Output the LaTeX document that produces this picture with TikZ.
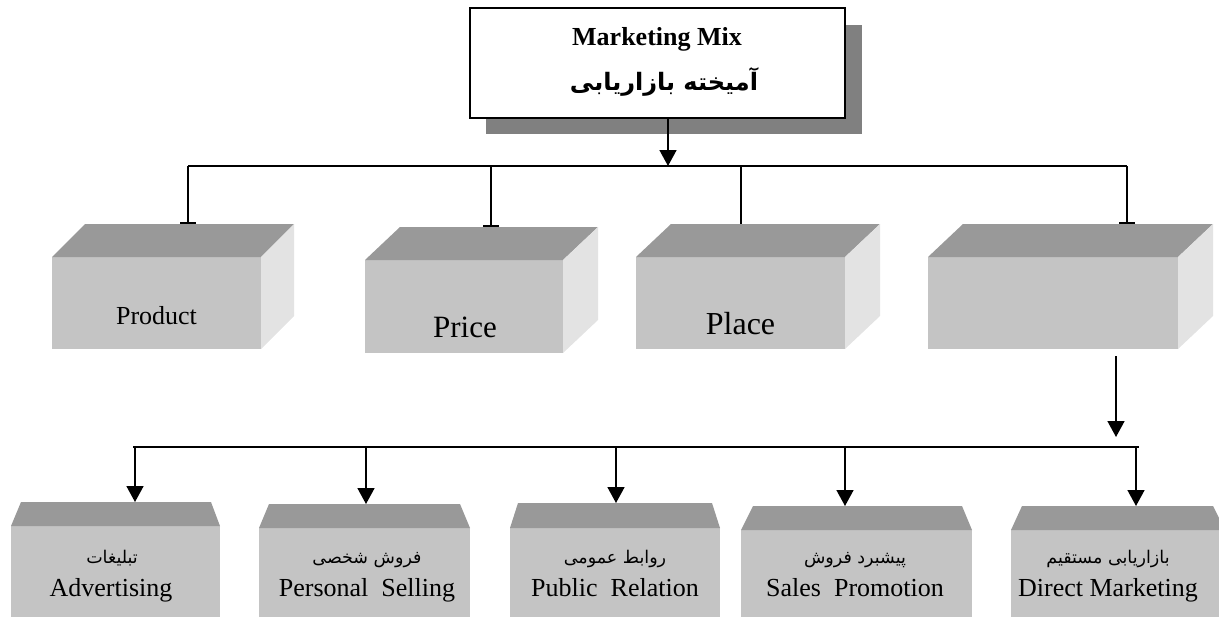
\documentclass[tikz,border=0pt]{standalone}
\usepackage{fontspec}
\setmainfont{Liberation Serif}
\newfontfamily\fa[Script=Arabic]{DejaVu Sans}
\TeXXeTstate=1
\usetikzlibrary{arrows.meta}
\definecolor{topc}{HTML}{999999}
\definecolor{frontc}{HTML}{C4C4C4}
\definecolor{sidec}{HTML}{E3E3E3}
\definecolor{shadowc}{HTML}{808080}
\tikzset{
  face/.style={fill=frontc, inner sep=0pt, outer sep=0pt},
  bigtxt/.style={anchor=base, inner sep=0pt, font=\fontsize{#1}{#1}\selectfont},
  fatxt/.style={anchor=base, inner sep=0pt, font=\fa\fontsize{17.5pt}{19pt}\selectfont},
  entxt/.style={anchor=base, inner sep=0pt, font=\fontsize{26pt}{28pt}\selectfont},
  bus/.style={line width=2.2pt},
  conn/.style={line width=1.8pt},
  barend/.style={line width=1.8pt, -{Bar[width=16pt,line width=2.5pt]}},
  arr/.style={line width=1.6pt, -{Triangle[width=17pt,length=16pt]}},
}
% cuboid: name, center x, center y, width, height, depth
\newcommand\cuboid[6]{%
  \node[face, minimum width=#4pt, minimum height=#5pt] (#1) at (#2,#3) {};
  \fill[topc] (#1.north west) -- ++(#6,-33) coordinate (#1-bl) -- ++(#4,0) coordinate (#1-br) -- (#1.north east) -- cycle;
  \fill[sidec] (#1.north east) -- (#1-br) -- ++(0,#5) -- (#1.south east) -- cycle;
}
% flat box: name, center x, center y, width, height, top y, left inset, right inset
\newcommand\flatbox[8]{%
  \node[face, minimum width=#4pt, minimum height=#5pt] (#1) at (#2,#3) {};
  \fill[topc] (#1.north west) -- ([xshift=#7pt]#1.north west |- 0,#6) coordinate (#1-tl)
     -- ([xshift=-#8pt]#1.north east |- 0,#6) coordinate (#1-tr) -- (#1.north east) -- cycle;
}
\begin{document}
\begin{tikzpicture}[x=1pt,y=-1pt]
\useasboundingbox (0,0) rectangle (1219,619);
\clip (0,0) rectangle (1219,619);

% title box with shadow
\fill[shadowc] (486,25) rectangle (862,134);
\node[draw=black, line width=2.5pt, fill=white, minimum width=375pt, minimum height=110pt, inner sep=0pt] (mix) at (657.5,63) {};
\node[bigtxt=26pt, font=\bfseries\fontsize{26pt}{28pt}\selectfont] (mixen) at (657,45) {Marketing Mix};
\node[anchor=base, inner sep=0pt, font=\fa\bfseries\fontsize{24pt}{26pt}\selectfont] (mixfa) at (664,90) {\beginR آمیخته بازاریابی\endR};

% upper cuboids
\cuboid{product}{156.5}{303}{209}{92}{33}
\cuboid{price}{464}{306.5}{198}{93}{35}
\cuboid{place}{740.5}{303}{209}{92}{35}
\cuboid{fourth}{1053}{303}{250}{92}{35}
\node[bigtxt=26pt] (productt) at (156.5,324) {Product};
\node[bigtxt=31pt] (pricet) at (465,337) {Price};
\node[bigtxt=32pt] (placet) at (740.5,334) {Place};

% top bus
\coordinate (busL) at (188,166);
\coordinate (busR) at (1127,166);
\draw[arr] ([xshift=10.5pt]mix.south) -- ([xshift=10.5pt]mix.south |- busL);
\draw[bus] (busL) -- (busR);
\draw[barend] (busL) -- (busL |- product-bl);
\draw[barend] (busL -| 491,0) -- (491,0 |- price-bl);
\draw[conn] (busL -| 741,0) -- (741,0 |- place-bl);
\draw[barend] (busR) -- (busR |- fourth-bl);

% lower bus
\coordinate (lbL) at (133,447);
\coordinate (lbR) at (1139,447);
\draw[arr] ([xshift=63pt, yshift=-7pt]fourth.south) -- ++(0,81);
\draw[line width=1.5pt] (lbL) -- (lbR);

% lower boxes
\flatbox{adv}{115.5}{571.5}{209}{91}{502}{10}{9}
\flatbox{pers}{364.5}{572.5}{211}{89}{504}{10}{10}
\flatbox{pub}{615}{572.5}{210}{89}{503}{8}{8}
\flatbox{sales}{856.5}{573.5}{231}{87}{506}{12}{10}
\flatbox{direct}{1118}{573.5}{214}{87}{506}{11}{12}

\draw[arr] (lbL -| 135,0) -- (135,0 |- adv-tl);
\draw[arr] (lbL -| 366,0) -- (366,0 |- pers-tl);
\draw[arr] (lbL -| 616,0) -- (616,0 |- pub-tl);
\draw[arr] (lbL -| 845,0) -- (845,0 |- sales-tl);
\draw[arr] (lbL -| 1136,0) -- (1136,0 |- direct-tl);

\node[fatxt] (advfa) at (112,563) {\beginR تبلیغات\endR};
\node[entxt] (adven) at (111,596) {Advertising};
\node[fatxt] (persfa) at (367,563) {\beginR فروش شخصی\endR};
\node[entxt] (persen) at (367,596) {Personal\ \ Selling};
\node[fatxt] (pubfa) at (615,563) {\beginR روابط عمومی\endR};
\node[entxt] (puben) at (615,596) {Public\ \ Relation};
\node[fatxt] (salesfa) at (855,563) {\beginR پیشبرد فروش\endR};
\node[entxt] (salesen) at (855,596) {Sales\ \ Promotion};
\node[fatxt] (directfa) at (1108,563) {\beginR بازاریابی مستقیم\endR};
\node[entxt] (directen) at (1108,596) {Direct Marketing};
\end{tikzpicture}
\end{document}
